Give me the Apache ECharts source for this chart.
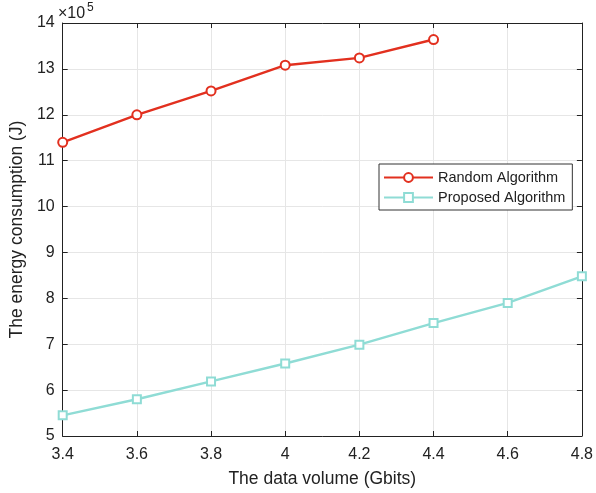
<!DOCTYPE html>
<html>
<head>
<meta charset="utf-8">
<script src="https://cdn.jsdelivr.net/npm/echarts@6/dist/echarts.min.js"></script>
<style>
  html, body { margin: 0; padding: 0; background: #fff; }
  #main { width: 596px; height: 493px; }
</style>
</head>
<body>
<div id="main"></div>
<script>
    // values in units of 1e5 J
    var randomX = [3.4, 3.6, 3.8, 4.0, 4.2, 4.4];
    var randomY = [11.4, 12.0, 12.52, 13.08, 13.24, 13.64];
    var proposedX = [3.4, 3.6, 3.8, 4.0, 4.2, 4.4, 4.6, 4.8];
    var proposedY = [5.45, 5.80, 6.19, 6.58, 6.99, 7.46, 7.90, 8.48];

    function pairs(xs, ys) {
        return xs.map(function (x, i) { return [x, ys[i]]; });
    }

    var font = 'Liberation Sans, Arial, sans-serif';
    var myChart = echarts.init(document.getElementById('main'));
    option = {
        animation: false,
        grid: {left: 57, right: 12, top: 23, bottom: 54},
        legend: {
          orient: 'vertical',
          left: 379,
          top: 164,
          itemWidth: 49,
          itemHeight: 11,
          itemGap: 5,
          padding: [6, 7, 5, 4],
          borderColor: '#333',
          borderWidth: 1,
          backgroundColor: '#fff',
          textStyle: {fontFamily: font, fontSize: 14.5, color: '#222'}
        },
        xAxis: [
          {
            type: 'value', min: 3.4, max: 4.8, interval: 0.2,
            name: 'The data volume (Gbits)',
            nameLocation: 'middle', nameGap: 34,
            nameTextStyle: {fontFamily: font, fontSize: 17.5, color: '#222'},
            axisLine: {onZero: false, lineStyle: {color: '#222', width: 1}},
            axisTick: {inside: true, length: 5, lineStyle: {color: '#222'}},
            axisLabel: {fontFamily: font, fontSize: 16, color: '#222', margin: 11,
              formatter: function (v) { return +v.toFixed(1) + ''; }},
            splitLine: {show: true, lineStyle: {color: '#e6e6e6'}}
          },
          {
            type: 'value', position: 'top', min: 3.4, max: 4.8, interval: 0.2,
            axisLine: {show: true, lineStyle: {color: '#222', width: 1}},
            axisTick: {inside: true, length: 5, lineStyle: {color: '#222'}},
            axisLabel: {show: false},
            splitLine: {show: false}
          }
        ],
        yAxis: [
          {
            type: 'value', min: 5, max: 14, interval: 1,
            name: 'The energy consumption (J)',
            nameLocation: 'middle', nameGap: 31,
            nameTextStyle: {fontFamily: font, fontSize: 17.5, color: '#222'},
            axisLine: {show: true, onZero: false, lineStyle: {color: '#222', width: 1}},
            axisTick: {show: true, inside: true, length: 5, lineStyle: {color: '#222'}},
            axisLabel: {fontFamily: font, fontSize: 16, color: '#222', margin: 8},
            splitLine: {show: true, lineStyle: {color: '#e6e6e6'}}
          },
          {
            type: 'value', position: 'right', min: 5, max: 14, interval: 1,
            axisLine: {show: true, lineStyle: {color: '#222', width: 1}},
            axisTick: {show: true, inside: true, length: 5, lineStyle: {color: '#222'}},
            axisLabel: {show: false},
            splitLine: {show: false}
          }
        ],
        graphic: [
          {
            type: 'text', left: 58, top: 6,
            style: {text: '×10', fontFamily: font, fontSize: 16, fill: '#222'}
          },
          {
            type: 'text', left: 87, top: 2,
            style: {text: '5', fontFamily: font, fontSize: 12, fill: '#222'}
          }
        ],
        series: [
          {
            name: 'Random Algorithm',
            type: 'line',
            data: pairs(randomX, randomY),
            symbol: 'emptyCircle', symbolSize: 9,
            color: '#e2301f',
            lineStyle: {width: 2.4},
            itemStyle: {borderWidth: 2}
          },
          {
            name: 'Proposed Algorithm',
            type: 'line',
            data: pairs(proposedX, proposedY),
            symbol: 'emptyRect', symbolSize: 8,
            color: '#8fdcd5',
            lineStyle: {width: 2.4},
            itemStyle: {borderWidth: 2}
          }
        ]
    }
    myChart.setOption(option);
</script>
</body>
</html>
